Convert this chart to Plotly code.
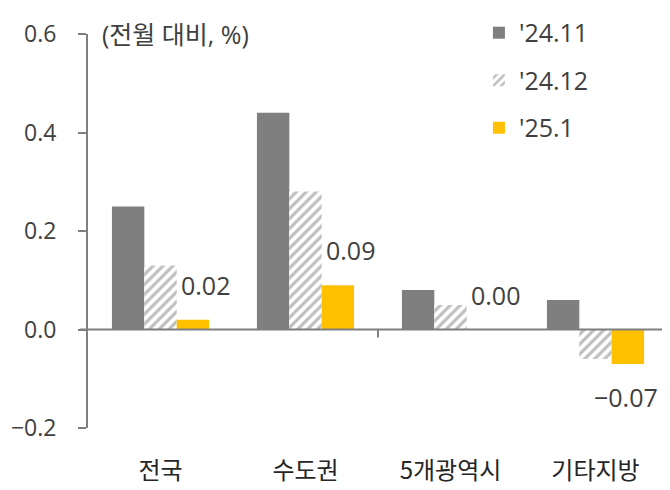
import plotly.graph_objects as go

categories = ["전국", "수도권", "5개광역시", "기타지방"]
series_names = ["'24.11", "'24.12", "'25.1"]
v_2411 = [0.25, 0.44, 0.08, 0.06]
v_2412 = [0.13, 0.28, 0.05, -0.06]
v_2501 = [0.02, 0.09, 0.00, -0.07]
y_ticks = [-0.2, 0.0, 0.2, 0.4, 0.6]
y_tick_labels = ["\u22120.2", "0.0", "0.2", "0.4", "0.6"]

KR = "Noto Sans CJK KR"
NUM = "Open Sans, Noto Sans CJK KR"
GRAY = "#7f7f7f"
YELLOW = "#FFC000"
TXT = "#404040"

fig = go.Figure()
fig.add_trace(go.Bar(x=categories, y=v_2411, name=series_names[0],
                     marker=dict(color=GRAY, line=dict(width=0)),
                     legendgroup="a"))
fig.add_trace(go.Bar(x=categories, y=v_2412, name=series_names[1],
                     marker=dict(color="white", line=dict(width=0),
                                 pattern=dict(shape="/", fgcolor=GRAY, bgcolor="white",
                                              size=7, solidity=0.45)),
                     legendgroup="b"))
fig.add_trace(go.Bar(x=categories, y=v_2501, name=series_names[2],
                     marker=dict(color=YELLOW, line=dict(width=0)),
                     legendgroup="c"))

# data labels for the '25.1 series
for cat, v in zip(categories, v_2501):
    txt = f"{v:.2f}".replace("-", "\u2212")
    if v >= 0:
        fig.add_annotation(x=cat, y=v, text=txt, showarrow=False,
                           xanchor="center", yanchor="bottom", xshift=45, yshift=16,
                           font=dict(size=25, color=TXT, family=NUM))
    else:
        fig.add_annotation(x=cat, y=v, text=txt, showarrow=False,
                           xanchor="center", yanchor="top", xshift=30, yshift=-14,
                           font=dict(size=25, color=TXT, family=NUM))

fig.add_shape(type="line", xref="x", yref="y", x0=1.5, x1=1.5, y0=0, y1=-0.016,
              line=dict(color=GRAY, width=2))
fig.add_shape(type="line", xref="paper", yref="y", x0=-0.014, x1=1, y0=0, y1=0,
              line=dict(color=GRAY, width=2), layer="above")

fig.add_annotation(text="(전월 대비, %)", xref="paper", yref="paper", x=0.02, y=1.0,
                   xanchor="left", yanchor="middle", showarrow=False,
                   font=dict(size=25, color=TXT, family=NUM))

fig.update_layout(
    width=662, height=482,
    margin=dict(l=80, r=2, t=26, b=62, autoexpand=False),
    paper_bgcolor="white", plot_bgcolor="white",
    barmode="group", bargap=0.33, bargroupgap=0,
    font=dict(family=NUM, size=24, color=TXT),
    showlegend=True,
    legend=dict(x=0.674, y=1.061, xanchor="left", yanchor="top",
                font=dict(size=25, color=TXT, family=NUM),
                tracegroupgap=12, bgcolor="rgba(0,0,0,0)"),
    xaxis=dict(showline=False, ticks="", showgrid=False, zeroline=False,
               automargin=False,
               ticklabelstandoff=26, tickfont=dict(size=24, color="#262626", family=KR)),
    yaxis=dict(range=[-0.2, 0.6], tickvals=y_ticks, ticktext=y_tick_labels,
               showline=True, linecolor=GRAY, linewidth=2, automargin=False,
               ticks="outside", ticklen=8, tickcolor=GRAY, tickwidth=2,
               showgrid=False, zeroline=False,
               tickfont=dict(size=23, color=TXT, family=NUM), ticklabelstandoff=17),
)

fig.write_html("out.html")
